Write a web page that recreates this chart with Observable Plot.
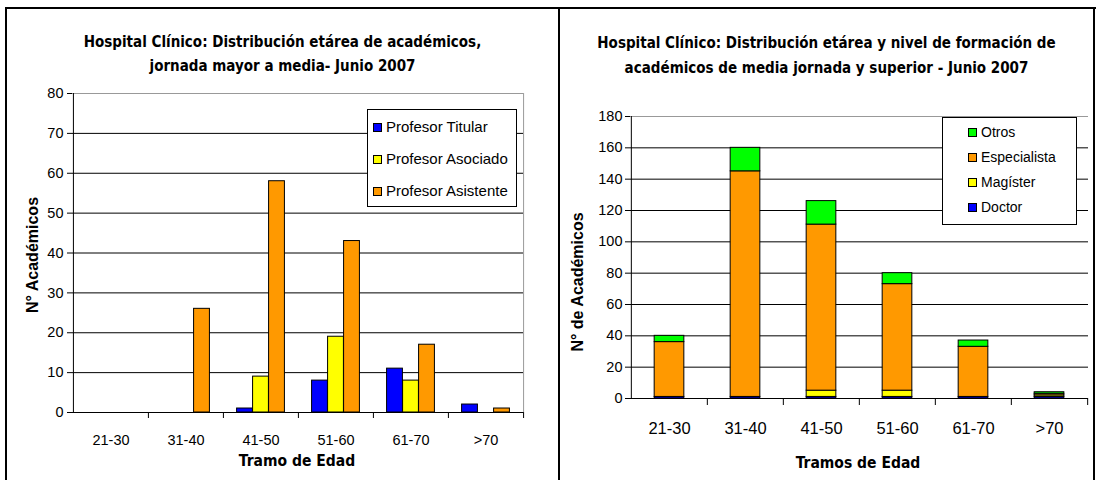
<!DOCTYPE html>
<html>
<head>
<meta charset="utf-8">
<script src="https://cdn.jsdelivr.net/npm/d3@7"></script>
<script src="https://cdn.jsdelivr.net/npm/@observablehq/plot@0.6"></script>
<style>
  html, body { margin: 0; padding: 0; background: #fff; }
  #root { position: relative; width: 1096px; height: 480px; overflow: hidden; background: #fff; font-family: "Liberation Sans", Arial, sans-serif; }
  .abs { position: absolute; }
  .title { font-family: "Liberation Sans Narrow", "DejaVu Sans Condensed", sans-serif; font-weight: bold; font-size: 15px; text-align: center; line-height: 24px; color: #000; }
  .xlab { font-family: "Liberation Sans Narrow", "DejaVu Sans Condensed", sans-serif; font-weight: bold; font-size: 15.5px; text-align: center; color: #000; white-space: nowrap; }
  .ylab { font-family: "Liberation Sans", Arial, sans-serif; font-weight: bold; font-size: 16px; color: #000; white-space: nowrap; transform-origin: center center; }
  .legend { background: #fff; border: 1px solid #000; box-sizing: border-box; }
  .item { position: absolute; display: flex; align-items: center; font-size: 15px; color: #000; white-space: nowrap; line-height: 16px; }
  .sw { width: 7px; height: 7px; border: 1px solid #000; margin-right: 4px; }
</style>
</head>
<body>
<div id="root"></div>
<script>
// ---------- Data ----------
const ageGroups = ["21-30", "31-40", "41-50", "51-60", "61-70", ">70"];

// Left chart: académicos jornada mayor a media
const leftSeries = ["Profesor Titular", "Profesor Asociado", "Profesor Asistente"];
const leftColors = ["#0000FF", "#FFFF00", "#FF9900"];
const titular   = [0, 0, 1, 8, 11, 2];
const asociado  = [0, 0, 9, 19, 8, 0];
const asistente = [0, 26, 58, 43, 17, 1];
const leftTicks = [0, 10, 20, 30, 40, 50, 60, 70, 80];

// Right chart: nivel de formación (stacked, bottom to top)
const rightSeries = ["Doctor", "Magíster", "Especialista", "Otros"];
const rightColors = ["#0000FF", "#FFFF00", "#FF9900", "#00FF00"];
const doctor       = [1, 1, 1, 1, 1, 1];
const magister     = [0, 0, 4, 4, 0, 1];
const especialista = [35, 144, 106, 68, 32, 1];
const otros        = [4, 15, 15, 7, 4, 1];
const rightTicks = [0, 20, 40, 60, 80, 100, 120, 140, 160, 180];

const leftTitle = ["Hospital Clínico: Distribución etárea de académicos,", "jornada mayor a media- Junio 2007"];
const rightTitle = ["Hospital Clínico: Distribución etárea y nivel de formación de", "académicos de media jornada y superior - Junio 2007"];

// ---------- Tables ----------
const leftValues = [titular, asociado, asistente];
const leftData = leftSeries.flatMap((s, i) => ageGroups.map((g, j) => ({group: g, series: s, value: leftValues[i][j]})));
const rightValues = [doctor, magister, especialista, otros];
const rightData = rightSeries.flatMap((s, i) => ageGroups.map((g, j) => ({group: g, series: s, value: rightValues[i][j]})));

const root = document.getElementById("root");
function addDiv(cls, style, html) {
  const d = document.createElement("div");
  d.className = "abs " + cls;
  Object.assign(d.style, style);
  if (html != null) d.innerHTML = html;
  root.appendChild(d);
  return d;
}

// Panel borders
addDiv("", {left: "5px", top: "7px", width: "1091px", height: "2px", background: "#000"});
addDiv("", {left: "5px", top: "7px", width: "2px", height: "473px", background: "#000"});
addDiv("", {left: "558px", top: "7px", width: "2px", height: "473px", background: "#000"});
addDiv("", {left: "1093px", top: "7px", width: "2px", height: "473px", background: "#000"});

// Titles
addDiv("title", {left: "7px", top: "30px", width: "551px"}, leftTitle.join("<br>"));
addDiv("title", {left: "560px", top: "31px", width: "533px", lineHeight: "25px"}, rightTitle.join("<br>"));

// ---------- Left chart ----------
{
  const W = 558, H = 400, mL = 72, mR = 35, mT = 13, mB = 68;
  const bw = (W - mL - mR) / ageGroups.length;
  const barW = 16;
  const inset = (bw - barW) / 2;
  const marks = [
    Plot.ruleY(leftTicks.slice(1, -1), {stroke: "#000", strokeWidth: 1}),
    Plot.ruleY([leftTicks[leftTicks.length - 1]], {stroke: "#999"}),
    Plot.ruleX([ageGroups[ageGroups.length - 1]], {dx: bw / 2, stroke: "#999"}),
    ...leftSeries.map((s, i) => Plot.barY(leftData.filter(d => d.series === s && d.value > 0), {
      x: "group", y: "value", fill: leftColors[i], stroke: "#000", strokeWidth: 1,
      insetLeft: inset, insetRight: inset, dx: (i - 1) * barW
    })),
    Plot.ruleY([0], {stroke: "#000"}),
    Plot.ruleX([ageGroups[0]], {dx: -bw / 2, stroke: "#000"}),
    Plot.ruleX(ageGroups.slice(1), {x: d => d, y1: () => 0, y2: () => 0, dx: -bw / 2, insetBottom: -6, stroke: "#000"}),
    Plot.ruleX([ageGroups[ageGroups.length - 1]], {x: d => d, y1: () => 0, y2: () => 0, dx: bw / 2, insetBottom: -6, stroke: "#000"}),
    Plot.axisY({ticks: leftTicks, tickSize: 5, tickPadding: 4, label: null, fontSize: 14.5}),
    Plot.axisX({tickSize: 0, tickPadding: 22, label: null, fontSize: 14.5})
  ];
  const chart = Plot.plot({
    width: W, height: H, marginLeft: mL, marginRight: mR, marginTop: mT, marginBottom: mB,
    x: {type: "band", domain: ageGroups, padding: 0},
    y: {domain: [0, 80]},
    style: {fontFamily: "'Liberation Sans', Arial, sans-serif", color: "#000", background: "transparent", overflow: "visible"},
    marks
  });
  chart.style.position = "absolute";
  chart.style.left = "0px";
  chart.style.top = "80px";
  root.appendChild(chart);

  addDiv("ylab", {left: "33px", top: "255px", transform: "translate(-50%,-50%) rotate(-90deg)"}, "N° Académicos");
  addDiv("xlab", {left: "297px", top: "461px", transform: "translate(-50%,-50%)"}, "Tramo de Edad");

  const lg = addDiv("legend", {left: "367px", top: "109px", width: "150px", height: "98px"});
  leftSeries.forEach((s, i) => {
    const it = document.createElement("div");
    it.className = "item";
    it.style.left = "5px";
    it.style.top = (9 + 32 * i) + "px";
    it.innerHTML = `<span class="sw" style="background:${leftColors[i]}"></span>${s}`;
    lg.appendChild(it);
  });
}

// ---------- Right chart ----------
{
  const W = 537, H = 380, mL = 71, mR = 8, mT = 16, mB = 82;
  const bw = (W - mL - mR) / ageGroups.length;
  const barW = 30;
  const inset = (bw - barW) / 2;
  const marks = [
    Plot.ruleY(rightTicks.slice(1, -1), {stroke: "#000", strokeWidth: 1}),
    Plot.ruleY([rightTicks[rightTicks.length - 1]], {stroke: "#999"}),
    Plot.barY(rightData.filter(d => d.value > 0), {
      x: "group", y: "value", z: "series", fill: "series",
      order: rightSeries, stroke: "#000", strokeWidth: 1,
      insetLeft: inset, insetRight: inset
    }),
    Plot.ruleY([0], {stroke: "#000"}),
    Plot.ruleX([ageGroups[0]], {dx: -bw / 2, stroke: "#000"}),
    Plot.ruleX(ageGroups.slice(1), {x: d => d, y1: () => 0, y2: () => 0, dx: -bw / 2, insetBottom: -7, stroke: "#000"}),
    Plot.ruleX([ageGroups[ageGroups.length - 1]], {x: d => d, y1: () => 0, y2: () => 0, dx: bw / 2, insetBottom: -7, stroke: "#000"}),
    Plot.axisY({ticks: rightTicks, tickSize: 5, tickPadding: 3, label: null, fontSize: 14.5}),
    Plot.axisX({tickSize: 0, tickPadding: 24, label: null, fontSize: 16.5})
  ];
  const chart = Plot.plot({
    width: W, height: H, marginLeft: mL, marginRight: mR, marginTop: mT, marginBottom: mB,
    x: {type: "band", domain: ageGroups, padding: 0},
    y: {domain: [0, 180]},
    color: {domain: rightSeries, range: rightColors},
    style: {fontFamily: "'Liberation Sans', Arial, sans-serif", color: "#000", background: "transparent", overflow: "visible"},
    marks
  });
  chart.style.position = "absolute";
  chart.style.left = "559px";
  chart.style.top = "100px";
  root.appendChild(chart);

  addDiv("ylab", {left: "578px", top: "282px", transform: "translate(-50%,-50%) rotate(-90deg)"}, "N° de Académicos");
  addDiv("xlab", {left: "858px", top: "463px", transform: "translate(-50%,-50%)"}, "Tramos de Edad");

  const lg = addDiv("legend", {left: "942px", top: "117px", width: "135px", height: "108px"});
  [...rightSeries].reverse().forEach((s) => {
    const i = rightSeries.indexOf(s);
    const k = rightSeries.length - 1 - i;
    const it = document.createElement("div");
    it.className = "item";
    it.style.left = "25px";
    it.style.top = (6 + 25 * k) + "px";
    it.style.fontSize = "14px";
    it.innerHTML = `<span class="sw" style="background:${rightColors[i]}"></span>${s}`;
    lg.appendChild(it);
  });
}
</script>
</body>
</html>
